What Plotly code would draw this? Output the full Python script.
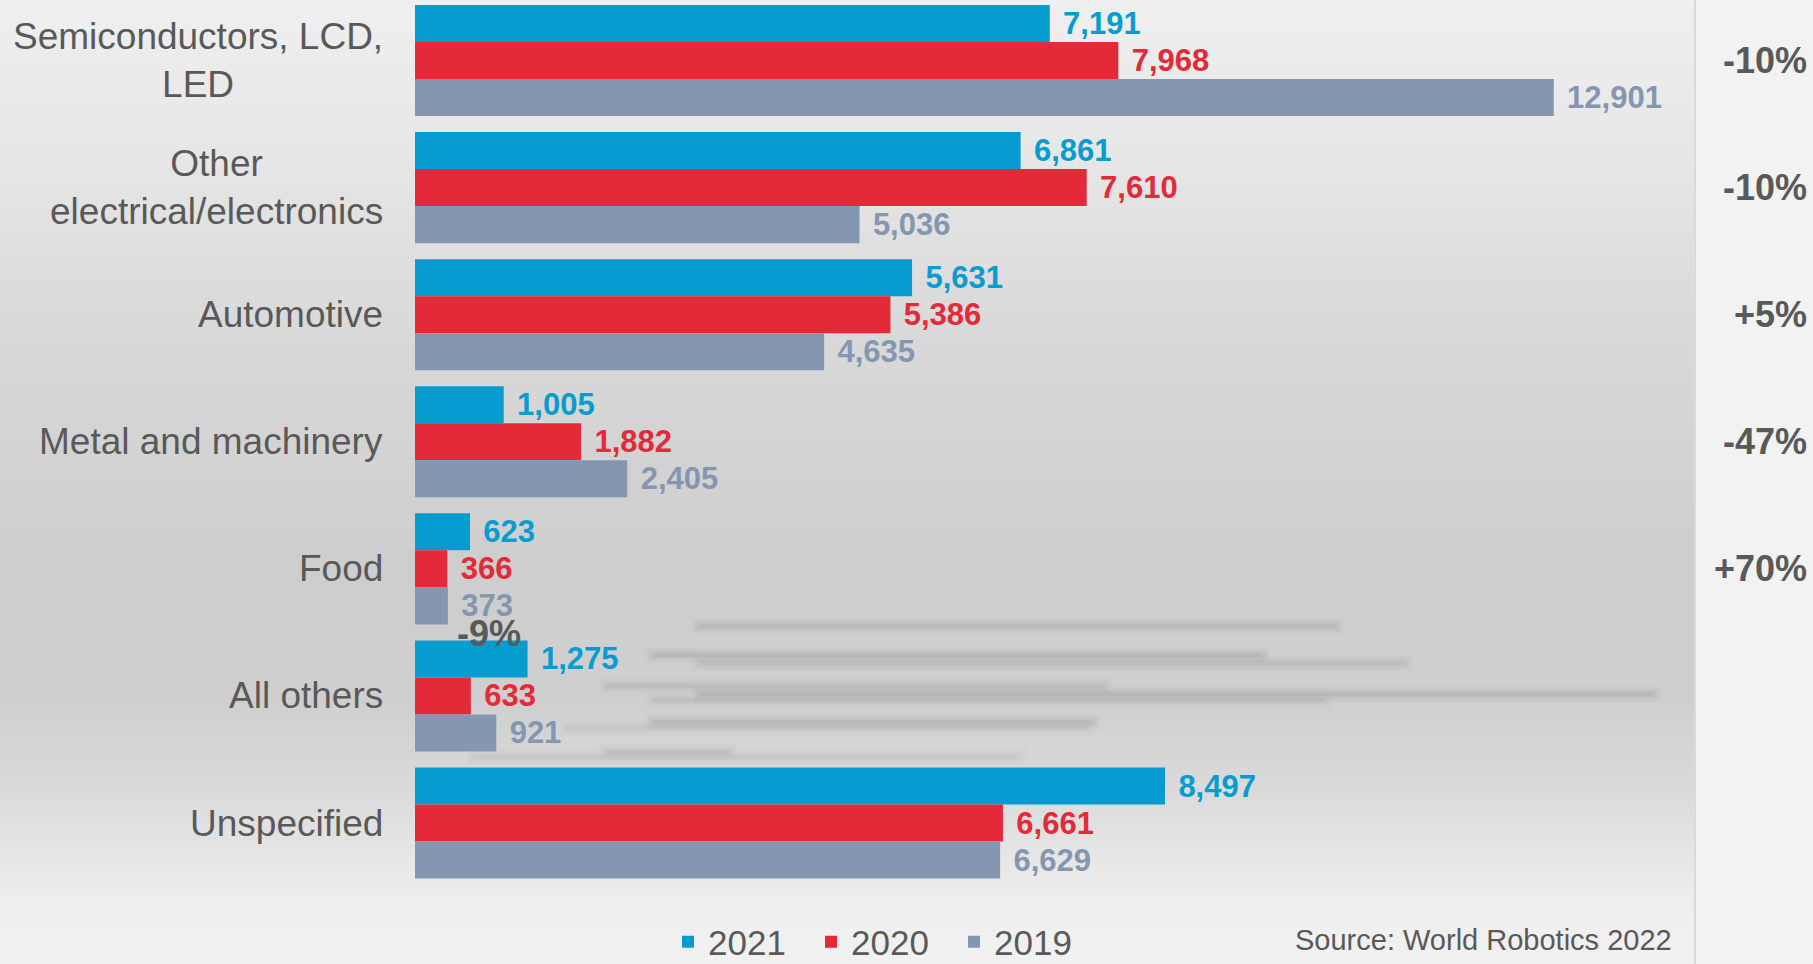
import plotly.graph_objects as go

# ---------------- data ----------------
categories = ["Semiconductors, LCD,<br>LED", "Other<br>electrical/electronics", "Automotive",
              "Metal and machinery", "Food", "All others", "Unspecified"]
years = ["2021", "2020", "2019"]
v2021 = [7191, 6861, 5631, 1005, 623, 1275, 8497]
v2020 = [7968, 7610, 5386, 1882, 366, 633, 6661]
v2019 = [12901, 5036, 4635, 2405, 373, 921, 6629]
growth = ["-10%", "-10%", "+5%", "-47%", "+70%", "-9%"]
source_text = "Source: World Robotics 2022"

# ---------------- style ----------------
W, H = 1813, 964
ML, MR, MT, MB = 415, 118, 0, 76
PW, PH = W - ML - MR, H - MT - MB
FONT = "Liberation Sans, Arial, Helvetica, sans-serif"
GREY_TXT = "#595959"
COLORS = {"2021": "#079CCF", "2020": "#E42A39", "2019": "#8597B0"}
XMAX = PW / 0.08827

def px_x(p):
    return (p - ML) / PW

def px_y(p):
    return (MT + PH - p) / PH

series = {"2021": v2021, "2020": v2020, "2019": v2019}

fig = go.Figure()
for yr in years:
    fig.add_trace(go.Bar(
        name=yr, y=categories, x=series[yr], orientation="h",
        marker=dict(color=COLORS[yr], line=dict(width=0)),
        texttemplate="\u2004%{x:,}", textposition="outside",
        textfont=dict(family=FONT, size=31, color=COLORS[yr], weight="bold"),
        constraintext="none", cliponaxis=False, hoverinfo="skip",
    ))

# background gradient (left panel)
stops = [(0, 239), (150, 231), (300, 219), (450, 211), (560, 206), (700, 207),
         (800, 220), (900, 238), (964, 241)]

def grey_at(p):
    for (a, ga), (b, gb) in zip(stops[:-1], stops[1:]):
        if a <= p <= b:
            return ga + (gb - ga) * (p - a) / (b - a)
    return stops[-1][1]

shapes = []
step = 8
for p in range(0, H, step):
    g = int(round(grey_at(p + step / 2)))
    shapes.append(dict(type="rect", xref="paper", yref="paper", layer="below",
                       x0=px_x(0), x1=px_x(1695), y0=px_y(p + step), y1=px_y(p),
                       fillcolor=f"rgb({g},{g},{g})", line=dict(width=0)))
shapes.append(dict(type="line", xref="paper", yref="paper", layer="below",
                   x0=px_x(1695), x1=px_x(1695), y0=px_y(H), y1=px_y(0),
                   line=dict(color="#dadada", width=2)))

# faint blurred smudge lines visible in the background of the reference
smudges = [(700, 1336, 626, 1.0), (653, 1262, 655, 1.0), (700, 1405, 663, 0.8),
           (607, 1104, 686, 0.9), (700, 1653, 694, 1.0), (653, 1324, 700, 0.7),
           (653, 1093, 722, 1.0), (567, 1087, 728, 0.5), (607, 728, 752, 0.8),
           (474, 1018, 757, 0.5)]
for x0, x1, yy, s in smudges:
    for wdt, a, ext in ((16, 0.05, 8), (11, 0.07, 5), (7, 0.09, 3), (4, 0.11, 0)):
        shapes.append(dict(type="line", xref="paper", yref="paper", layer="below",
                           x0=px_x(x0 - ext), x1=px_x(x1 + ext), y0=px_y(yy), y1=px_y(yy),
                           line=dict(color=f"rgba(140,140,140,{a * s:.3f})", width=wdt)))

annotations = []
for c in categories:
    annotations.append(dict(x=0, xref="paper", y=c, yref="y", xanchor="right",
                            xshift=-30, text=c, showarrow=False, align="center",
                            font=dict(family=FONT, size=37, color=GREY_TXT)))
for c, g in zip(categories[:5], growth[:5]):
    annotations.append(dict(x=px_x(1809), xref="paper", y=c, yref="y", xanchor="right",
                            text=g, showarrow=False,
                            font=dict(family=FONT, size=36, color=GREY_TXT, weight="bold")))
# stray "All others" growth label sitting in the gap above its bars
annotations.append(dict(x=px_x(489), xref="paper", y=4.51, yref="y", xanchor="center",
                        yanchor="middle", text=growth[5], showarrow=False,
                        font=dict(family=FONT, size=36, color=GREY_TXT, weight="bold")))
annotations.append(dict(x=px_x(1674), xref="paper", y=px_y(940), yref="paper",
                        xanchor="right", yanchor="middle", text=source_text, showarrow=False,
                        font=dict(family=FONT, size=29, color=GREY_TXT)))

fig.update_layout(
    width=W, height=H,
    margin=dict(l=ML, r=MR, t=MT, b=MB),
    paper_bgcolor="#f2f2f2", plot_bgcolor="rgba(0,0,0,0)",
    barmode="group", bargap=0.126, bargroupgap=0,
    font=dict(family=FONT, color=GREY_TXT),
    xaxis=dict(range=[0, XMAX], visible=False, fixedrange=True),
    yaxis=dict(type="category", categoryorder="array", categoryarray=categories,
               range=[6.511, -0.476], showticklabels=False, showgrid=False,
               zeroline=False, showline=False, ticks="", fixedrange=True),
    showlegend=True,
    legend=dict(orientation="h", xref="container", yref="container",
                x=668 / W, xanchor="left", y=1 - 942 / H, yanchor="middle",
                font=dict(family=FONT, size=35, color=GREY_TXT),
                bgcolor="rgba(0,0,0,0)", entrywidth=98, entrywidthmode="pixels",
                traceorder="normal"),
    shapes=shapes, annotations=annotations,
)

fig.write_html("out.html", config={"displayModeBar": False},
               post_script="document.body.style.margin='0';")
